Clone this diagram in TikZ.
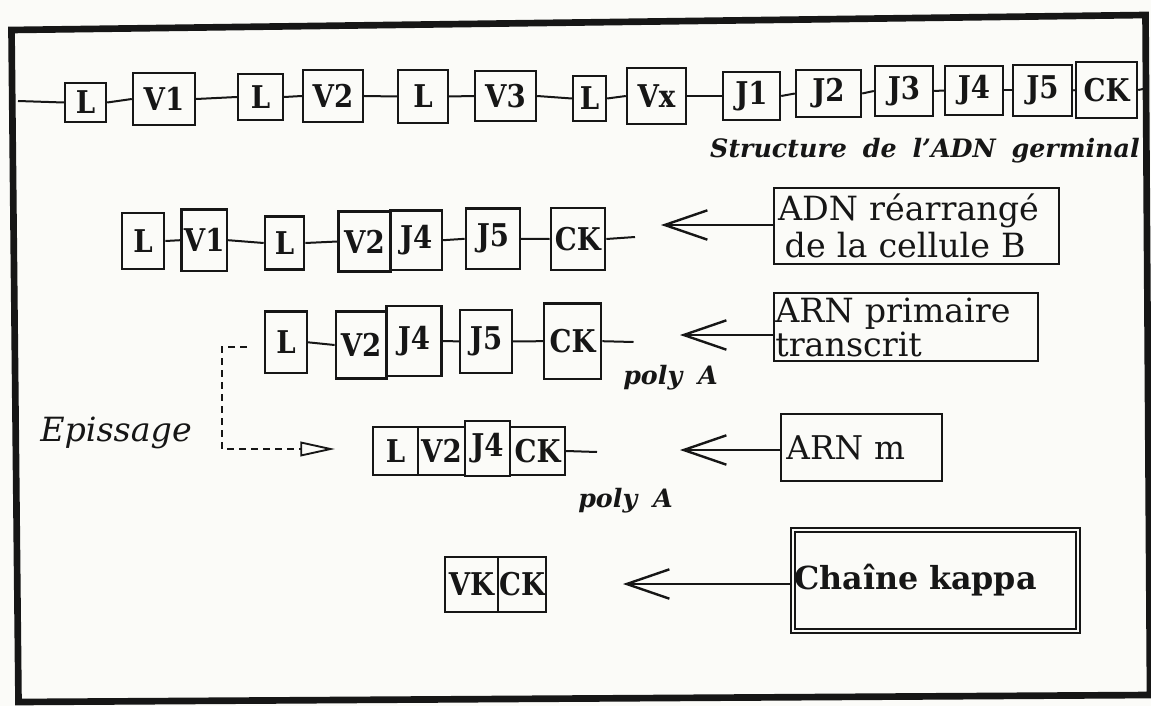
\documentclass[tikz,border=0pt]{standalone}
\usepackage{fontspec}
\usetikzlibrary{arrows.meta}
\newfontfamily\segfont[FakeStretch=0.88]{DejaVu Serif}
\newfontfamily\txtfont[WordSpace=1.8]{DejaVu Serif}
\definecolor{paper}{RGB}{251,251,248}
\definecolor{ink}{RGB}{22,22,22}
\begin{document}
\begin{tikzpicture}[x=0.75pt,y=-0.75pt,
  seg/.style={draw=ink, line width=1.8pt, inner sep=0pt, text=ink,
    font=\segfont\bfseries\fontsize{23.5pt}{26pt}\selectfont},
  bw/.style={minimum width=#1*0.75pt},
  bh/.style={minimum height=#1*0.75pt},
  link/.style={draw=ink, line width=1.5pt},
  bigbox/.style={draw=ink, line width=1.6pt, inner ysep=0pt, align=left,
    text=ink, anchor=west, font=\txtfont\fontsize{25pt}{28pt}\selectfont},
  bigarrow/.style={draw=ink, line width=1.6pt,
    -{Straight Barb[length=32pt,width=22pt,line width=1.8pt]}},
  dashline/.style={draw=ink, line width=1.4pt, dash pattern=on 5pt off 4pt},
  bilabel/.style={text=ink, inner sep=0pt,
    font=\txtfont\bfseries\itshape\fontsize{19pt}{22pt}\selectfont},
  ilabel/.style={text=ink, inner sep=0pt,
    font=\txtfont\itshape\fontsize{25pt}{28pt}\selectfont},
  frame/.style={draw=ink, line width=5pt, line join=miter}
]
\fill[paper] (0,0) rectangle (1151,706);
\useasboundingbox (0,0) rectangle (1151,706);

% outer frame
\coordinate (f1) at (11.5,30);
\coordinate (f2) at (1145.5,15);
\coordinate (f3) at (1150,695);
\coordinate (f4) at (18.5,702);
\draw[frame] (f1) -- (f2) -- (f3) -- (f4) -- cycle;

% ---------- row 1 : germinal DNA ----------
\coordinate (s1) at (18,101);
\node[seg,bw=41,bh=39] (La) at (85.5,102.5) {L};
\node[seg,bw=62,bh=52] (V1a) at (164,99) {V1};
\node[seg,bw=45,bh=46] (Lb) at (260.5,97) {L};
\node[seg,bw=60,bh=52] (V2a) at (333,96) {V2};
\node[seg,bw=50,bh=53] (Lc) at (423,96.5) {L};
\node[seg,bw=61,bh=50] (V3a) at (505.5,96) {V3};
\node[seg,bw=33,bh=45] (Ld) at (589.5,98.5) {L};
\node[seg,bw=59,bh=56] (Vxa) at (656.5,96) {Vx};
\node[seg,bw=57,bh=48] (J1a) at (751.5,96) {J1};
\node[seg,bw=65,bh=47] (J2a) at (828.5,93.5) {J2};
\node[seg,bw=58,bh=50] (J3a) at (904,91) {J3};
\node[seg,bw=58,bh=49] (J4a) at (974,90.5) {J4};
\node[seg,bw=59,bh=51] (J5a) at (1042.5,90.5) {J5};
\node[seg,bw=61,bh=56] (CKa) at (1106.5,90) {CK};
\coordinate (e1) at (1143,89);
\draw[link] (s1) -- (La.west);
\draw[link] (La.east) -- (V1a.west);
\draw[link] (V1a.east) -- (Lb.west);
\draw[link] (Lb.east) -- (V2a.west);
\draw[link] (V2a.east) -- (Lc.west);
\draw[link] (Lc.east) -- (V3a.west);
\draw[link] (V3a.east) -- (Ld.west);
\draw[link] (Ld.east) -- (Vxa.west);
\draw[link] (Vxa.east) -- (J1a.west);
\draw[link] (J1a.east) -- (J2a.west);
\draw[link] (J2a.east) -- (J3a.west);
\draw[link] (J3a.east) -- (J4a.west);
\draw[link] (J4a.east) -- (J5a.west);
\draw[link] (J5a.east) -- (CKa.west);
\draw[link] (CKa.east) -- (e1);
\node[bilabel,anchor=base east] (titre) at (1140,157) {Structure de l’ADN germinal};

% ---------- row 2 : rearranged DNA ----------
\node[seg,bw=42.5,bh=56.5] (L2a) at (143,241) {L};
\node[seg,bw=45.6,bh=61.7] (V1b) at (204.2,240.2) {V1};
\node[seg,bw=39.2,bh=52.7] (L2b) at (284.5,243) {L};
\node[seg,bw=51.9,bh=60.3] (V2b) at (364.5,241.5) {V2};
\node[seg,bw=51.6,bh=59.7] (J4b) at (416.2,240.2) {J4};
\node[seg,bw=54.1,bh=60.3] (J5b) at (492.9,238.8) {J5};
\node[seg,bw=54.4,bh=62.1] (CKb) at (577.9,239) {CK};
\coordinate (e2) at (635,237);
\draw[link] (L2a.east) -- (V1b.west);
\draw[link] (V1b.east) -- (L2b.west);
\draw[link] (L2b.east) -- (V2b.west);
\draw[link] (J4b.east) -- (J5b.west);
\draw[link] (J5b.east) -- (CKb.west);
\draw[link] (CKb.east) -- (e2);
\node[bigbox,text width=207.75pt,inner xsep=3pt,minimum height=57pt] (adn) at (773,226)
  {ADN réarrangé\\\hspace*{5pt}de la cellule B};
\coordinate (tA) at (661,225);
\draw[bigarrow] (adn.west |- tA) -- (tA);

% ---------- row 3 : primary transcript ----------
\node[seg,bw=41.5,bh=61.3] (L3) at (286,342.3) {L};
\node[seg,bw=50.6,bh=66.7] (V2c) at (361.1,345) {V2};
\node[seg,bw=55.1,bh=70.4] (J4c) at (414,341) {J4};
\node[seg,bw=51.8,bh=63] (J5c) at (486.1,341.4) {J5};
\node[seg,bw=57.2,bh=75.8] (CKc) at (572.6,341.2) {CK};
\coordinate (e3) at (633.5,342);
\draw[link] (L3.east) -- (V2c.west);
\draw[link] (J4c.east) -- (J5c.west);
\draw[link] (J5c.east) -- (CKc.west);
\draw[link] (CKc.east) -- (e3);
\node[bilabel,anchor=base west] (pa1) at (623,384) {poly A};
\node[bigbox,text width=196pt,inner xsep=1pt,minimum height=51pt,
  font=\txtfont\fontsize{25pt}{25.5pt}\selectfont] (arnp) at (773,327)
  {ARN primaire\\transcrit};
\coordinate (tB) at (680,335);
\draw[bigarrow] (arnp.west |- tB) -- (tB);

% ---------- splicing ----------
\node[ilabel,anchor=base west] (epi) at (40,441) {Epissage};
\coordinate (d0) at (247,347);
\coordinate (d1) at (222,347);
\coordinate (d2) at (222,449);
\coordinate (d3) at (335,449);
\draw[dashline,-{Triangle[open,length=26pt,width=11pt,line width=1.4pt]}]
  (d0) -- (d1) -- (d2) -- (d3);

% ---------- row 4 : mRNA ----------
\node[seg,bw=45,bh=48] (L4) at (395.5,451) {L};
\node[seg,bw=47,bh=48] (V2d) at (441.5,451) {V2};
\node[seg,bw=45,bh=55] (J4d) at (487.5,448.5) {J4};
\node[seg,bw=55,bh=48] (CKd) at (537.5,451) {CK};
\coordinate (e4) at (597,452);
\draw[link] (CKd.east) -- (e4);
\node[bilabel,anchor=base west] (pa2) at (578,507) {poly A};
\node[bigbox,text width=112.75pt,inner xsep=4pt,minimum height=50.25pt,
  font=\txtfont\fontsize{24.5pt}{28pt}\selectfont] (arnm) at (780,447.5)
  {ARN m};
\coordinate (tC) at (680,450);
\draw[bigarrow] (arnm.west |- tC) -- (tC);

% ---------- row 5 : kappa chain ----------
\node[seg,bw=53,bh=55] (VK) at (471.5,584.5) {VK};
\node[seg,bw=48,bh=55] (CKe) at (522,584.5) {CK};
\node[bigbox,text width=212pt,inner xsep=1pt,minimum height=75.75pt,
  line width=1.5pt,double=paper,double distance=1.5pt,
  font=\txtfont\bfseries\fontsize{23.8pt}{26pt}\selectfont] (kappa) at (792,580.5)
  {Chaîne kappa};
\coordinate (tD) at (623,584);
\draw[bigarrow] (kappa.west |- tD) -- (tD);
\end{tikzpicture}
\end{document}
